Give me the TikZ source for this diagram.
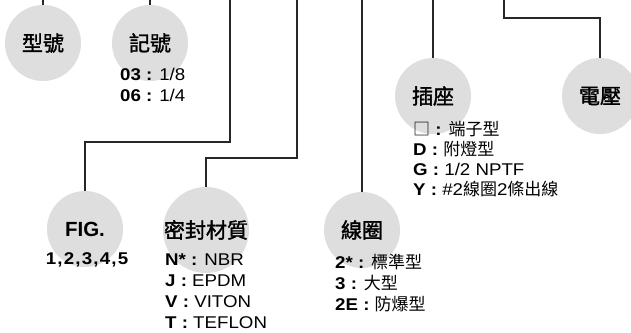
\documentclass[tikz,border=0pt]{standalone}
\usepackage{fontspec}
\setmainfont[FakeStretch=1.1]{Liberation Sans}
\newfontfamily\titlefont{Liberation Sans}
\newfontfamily\cjk{Noto Sans CJK TC}
\newfontfamily\cjktitle[FakeBold=1.6]{Noto Sans CJK TC}

\definecolor{bubblegray}{HTML}{DEDEDE}
\definecolor{wiregray}{HTML}{2A2626}

\tikzset{
        bubble/.style = {circle, fill=bubblegray, minimum size=76pt, inner sep=0pt,
            font=\fontsize{21}{21}\selectfont\cjktitle},
        optlist/.style = {anchor=north west, inner sep=0pt, align=left,
            font=\fontsize{17}{21}\selectfont},
        wire/.style = {draw=wiregray, line width=1.1pt}
    }

\begin{document}
\begin{tikzpicture}[x=1pt, y=-1pt]
            \useasboundingbox (0,0) rectangle (631,332);
            \clip (0,0) rectangle (631,332);

            % the circles
            \node[bubble] (model) at (43,43) {型號};
            \node[bubble] (code) at (150,43) {記號};
            \node[bubble, font=\fontsize{20.5}{21}\selectfont\titlefont\bfseries] (fig) at (85,229) {FIG.};
            \node[bubble] (seal) at (206,230) {密封材質};
            \node[bubble] (coil) at (362,230) {線圈};
            \node[bubble] (socket) at (433,96) {插座};
            \node[bubble] (volt) at (600,96) {電壓};

            % wires coming in from the top edge
            \foreach \n/\x in {model/43, code/150, fig/230, seal/297, coil/362, socket/433, volt/504}
                \coordinate (top-\n) at (\x,0);

            \draw[wire] (top-model) -- (model);
            \draw[wire] (top-code) -- (code);
            \draw[wire] (top-fig) -- ++(0,142) -| (fig);
            \draw[wire] (top-seal) -- ++(0,158) -| (seal);
            \draw[wire] (top-coil) -- (coil);
            \draw[wire] (top-socket) -- (socket);
            \draw[wire] (top-volt) -- ++(0,18) -| (volt);

            % the option lists
            \node[optlist] (code-opts) at (120,68) {\textbf{03 :} 1/8\\ \textbf{06 :} 1/4};
            \node[optlist, anchor=center, font=\fontsize{17}{21}\selectfont\bfseries\addfontfeature{LetterSpace=7}] (fig-opts) at (87,260) {1,2,3,4,5};
            \node[optlist] (seal-opts) at (165,254) {\textbf{N* :} NBR\\ \textbf{J :} EPDM\\ \textbf{V :} VITON\\ \textbf{T :} TEFLON};
            \node[optlist] (coil-opts) at (335,254) {\textbf{2* :} {\cjk 標準型}\\ \textbf{3 :} {\cjk 大型}\\ \textbf{2E :} {\cjk 防爆型}};
            \node[optlist, font=\fontsize{17}{20}\selectfont] (socket-opts) at (413,121)
                {{\cjk □} \textbf{:} {\cjk 端子型}\\ \textbf{D :} {\cjk 附燈型}\\ \textbf{G :} 1/2 NPTF\\ \textbf{Y :} \#2{\cjk 線圈}2{\cjk 條出線}};

        \end{tikzpicture}
\end{document}
